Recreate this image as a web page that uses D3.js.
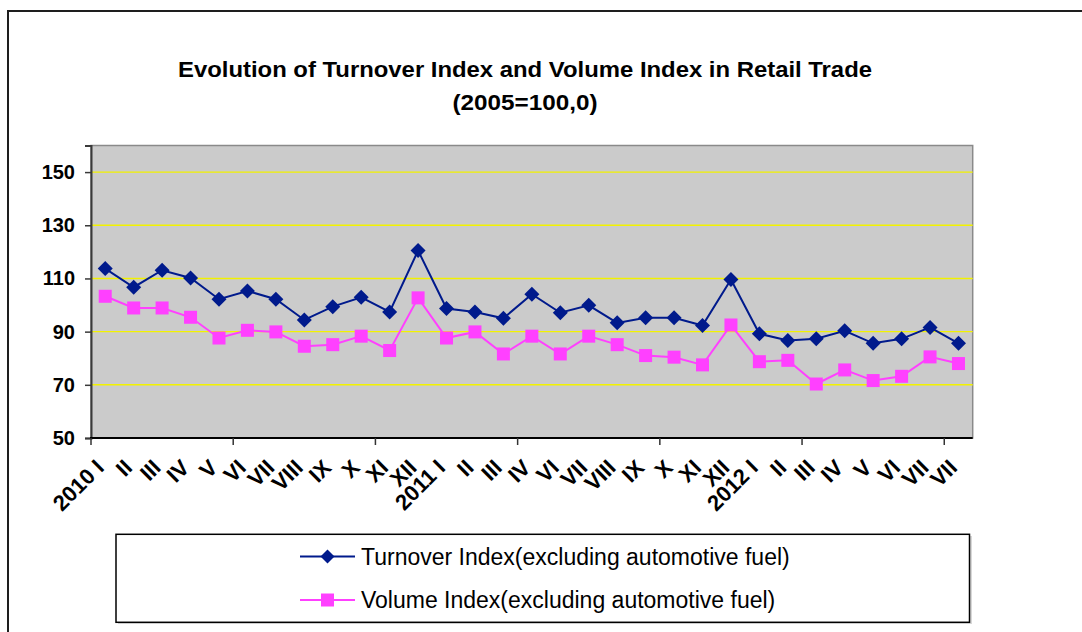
<!DOCTYPE html>
<html>
<head>
<meta charset="utf-8">
<script src="https://cdn.jsdelivr.net/npm/d3@7"></script>
<style>
  html, body { margin: 0; padding: 0; background: #fff; }
  svg { display: block; font-family: "Liberation Sans", Arial, sans-serif; }
</style>
</head>
<body>
<svg id="chart" width="1082" height="632"></svg>
<script>
// ---- data ----
const categories = ["2010 I","II","III","IV","V","VI","VII","VIII","IX","X","XI","XII",
  "2011 I","II","III","IV","VI","VII","VIII","IX","X","XI","XII",
  "2012 I","II","III","IV","V","VI","VII","VII"];
const turnover = [113.7,106.7,113.1,110.2,102.2,105.3,102.2,94.4,99.4,102.9,97.4,120.5,
  98.7,97.4,95.0,104.1,97.1,99.9,93.3,95.2,95.2,92.3,109.6,
  89.2,86.7,87.3,90.3,85.6,87.3,91.6,85.6];
const volume = [103.3,98.9,98.9,95.4,87.6,90.5,89.9,84.5,85.1,88.3,82.9,102.7,
  87.6,89.9,81.6,88.3,81.6,88.3,85.1,81.0,80.4,77.5,92.5,
  78.7,79.2,70.3,75.6,71.6,73.2,80.5,78.0];
const yTicks = [50,70,90,110,130,150];
const titleLines = ["Evolution of Turnover Index and Volume Index in Retail Trade","(2005=100,0)"];
const seriesNames = ["Turnover Index(excluding automotive fuel)","Volume Index(excluding automotive fuel)"];

// ---- layout ----
const svg = d3.select("#chart");
const plot = {left: 91, top: 145.5, right: 972.7, bottom: 438};
const x = d3.scaleBand().domain(d3.range(categories.length)).range([plot.left, plot.right]).padding(0);
const y = d3.scaleLinear().domain([50,160]).range([plot.bottom, plot.top]);
const cx = i => x(i) + x.bandwidth()/2;

// outer chart border
svg.append("rect").attr("x",8).attr("y",11).attr("width",1200).attr("height",1000)
  .attr("fill","#fff").attr("stroke","#1e1e1e").attr("stroke-width",2);

// title
svg.append("text").attr("x",525).attr("y",77).attr("text-anchor","middle")
  .attr("font-size",22).attr("font-weight","bold")
  .attr("textLength",694).attr("lengthAdjust","spacingAndGlyphs").text(titleLines[0]);
svg.append("text").attr("x",525).attr("y",110).attr("text-anchor","middle")
  .attr("font-size",22).attr("font-weight","bold")
  .attr("textLength",145).attr("lengthAdjust","spacingAndGlyphs").text(titleLines[1]);

// plot area
svg.append("rect").attr("x",plot.left).attr("y",plot.top)
  .attr("width",plot.right-plot.left).attr("height",plot.bottom-plot.top)
  .attr("fill","#cbcbcb").attr("stroke","#8a8a8a").attr("stroke-width",1.5);

// gridlines
svg.append("g").selectAll("line").data(yTicks.filter(d=>d>50)).join("line")
  .attr("x1",plot.left).attr("x2",plot.right)
  .attr("y1",d=>y(d)).attr("y2",d=>y(d))
  .attr("stroke","#f2f200").attr("stroke-width",1.4);

// y axis
const yAxis = svg.append("g").attr("transform",`translate(${plot.left},0)`)
  .call(d3.axisLeft(y).tickValues(yTicks).tickSize(6).tickPadding(10));
yAxis.select(".domain").attr("stroke","#3a3a3a").attr("stroke-width",2);
yAxis.selectAll(".tick line").attr("stroke","#3a3a3a").attr("stroke-width",1.5);
yAxis.selectAll("text").attr("font-size",20).attr("font-weight","bold")
  .attr("font-family","Liberation Sans, Arial, sans-serif").attr("fill","#000");

// x axis line
svg.append("line").attr("x1",plot.left-1).attr("x2",plot.right)
  .attr("y1",plot.bottom).attr("y2",plot.bottom)
  .attr("stroke","#000").attr("stroke-width",2);
// x tick marks every 5 categories
const tickIdx = d3.range(0, categories.length, 5);
svg.append("g").selectAll("line").data(tickIdx).join("line")
  .attr("x1",d=>x(d)).attr("x2",d=>x(d))
  .attr("y1",plot.bottom).attr("y2",plot.bottom+7)
  .attr("stroke","#333").attr("stroke-width",1.5);
// x labels
const xAxis = svg.append("g").attr("transform",`translate(0,${plot.bottom})`)
  .call(d3.axisBottom(x).tickSize(0).tickFormat(i=>categories[i]));
xAxis.select(".domain").remove();
xAxis.selectAll(".tick text")
  .attr("font-size",22).attr("font-weight","bold")
  .attr("font-family","Liberation Sans, Arial, sans-serif").attr("fill","#000")
  .attr("text-anchor","end").attr("dy",null).attr("y",null)
  .attr("transform","translate(0,31) rotate(-45)");

// lines
const line = d3.line().x((d,i)=>cx(i)).y(d=>y(d));
svg.append("path").datum(volume).attr("d",line).attr("fill","none")
  .attr("stroke","#ff40ff").attr("stroke-width",2);
svg.append("path").datum(turnover).attr("d",line).attr("fill","none")
  .attr("stroke","#001a8c").attr("stroke-width",2);

// markers
const sq = 13;
svg.append("g").selectAll("rect").data(volume).join("rect")
  .attr("x",(d,i)=>cx(i)-sq/2).attr("y",d=>y(d)-sq/2)
  .attr("width",sq).attr("height",sq).attr("fill","#ff40ff");
const dia = 7.5;
svg.append("g").selectAll("path").data(turnover).join("path")
  .attr("d",(d,i)=>{const X=cx(i),Y=y(d);return `M${X},${Y-dia}L${X+dia},${Y}L${X},${Y+dia}L${X-dia},${Y}Z`;})
  .attr("fill","#001a8c");

// legend
svg.append("rect").attr("x",118).attr("y",536).attr("width",854).attr("height",88).attr("fill","#d8d8d8");
svg.append("rect").attr("x",116).attr("y",534.3).attr("width",853.5).attr("height",88)
  .attr("fill","#fff").attr("stroke","#000").attr("stroke-width",1.5);
const legendRows = [
  {name: seriesNames[0], color:"#001a8c", y:556.5, marker:"diamond"},
  {name: seriesNames[1], color:"#ff40ff", y:600, marker:"square"}
];
const lg = svg.append("g").selectAll("g").data(legendRows).join("g");
lg.append("line").attr("x1",300).attr("x2",355).attr("y1",d=>d.y).attr("y2",d=>d.y)
  .attr("stroke",d=>d.color).attr("stroke-width",2);
lg.append("path").attr("d",d=> d.marker==="diamond"
    ? `M327.5,${d.y-7}L334.5,${d.y}L327.5,${d.y+7}L320.5,${d.y}Z`
    : `M321,${d.y-6.5}h13v13h-13Z`)
  .attr("fill",d=>d.color);
lg.append("text").attr("x",361).attr("y",d=>d.y).attr("dy","0.35em")
  .attr("font-size",23).attr("fill","#000").text(d=>d.name);
</script>
</body>
</html>
